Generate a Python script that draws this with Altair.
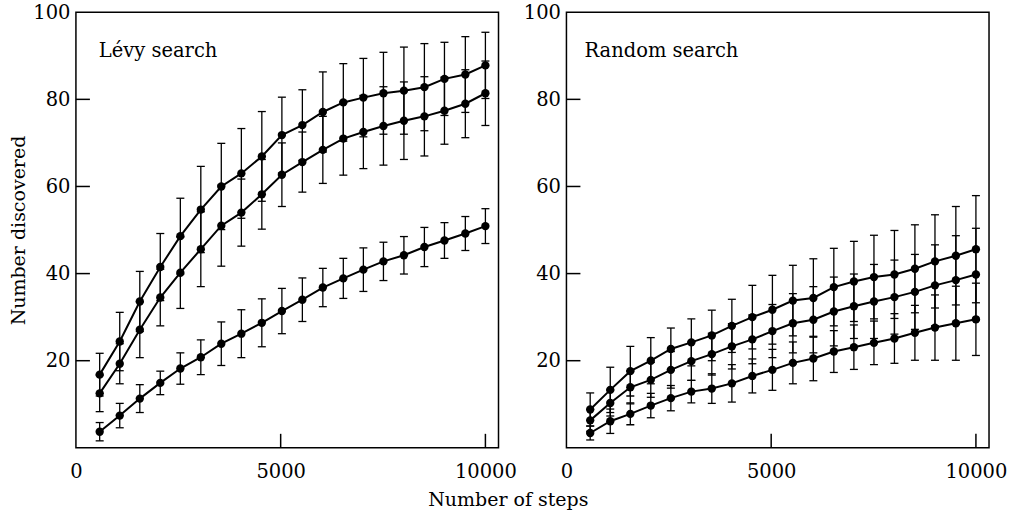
import altair as alt
import pandas as pd

# ---- data ----
steps = [580, 1070, 1560, 2060, 2550, 3050, 3550, 4040, 4540, 5030,
         5530, 6030, 6530, 7020, 7510, 8010, 8510, 9000, 9510, 10000]

levy_top = [16.8, 24.4, 33.6, 41.5, 48.6, 54.7, 60.0, 63.0, 66.9, 71.8,
            74.1, 77.1, 79.3, 80.4, 81.4, 82.0, 82.8, 84.7, 85.7, 87.8]
levy_top_err = [4.9, 6.7, 6.9, 7.7, 8.7, 9.9, 9.9, 10.3, 10.3, 8.7,
                8.1, 9.2, 8.9, 9.0, 9.4, 10.0, 10.0, 8.4, 8.7, 7.6]

levy_mid = [12.5, 19.3, 27.1, 34.5, 40.2, 45.6, 51.0, 54.0, 58.2, 62.7,
            65.6, 68.4, 71.0, 72.5, 73.9, 75.1, 76.1, 77.4, 79.0, 81.4]
levy_mid_err = [4.2, 4.6, 6.4, 6.5, 8.2, 8.6, 9.3, 7.7, 8.0, 7.3,
                6.9, 7.7, 8.4, 8.4, 9.0, 8.9, 9.1, 7.7, 7.8, 7.4]

levy_low = [3.7, 7.4, 11.3, 14.9, 18.2, 20.8, 23.9, 26.2, 28.7, 31.4,
            34.0, 36.8, 38.9, 40.9, 42.8, 44.2, 46.1, 47.6, 49.2, 50.9]
levy_low_err = [2.1, 2.8, 3.2, 2.7, 3.6, 4.0, 5.0, 5.5, 5.5, 5.2,
                5.0, 4.4, 4.6, 5.0, 4.4, 4.3, 4.5, 4.1, 3.9, 4.0]

rand_top = [8.8, 13.3, 17.6, 20.0, 22.7, 24.2, 25.8, 28.0, 30.0, 31.7,
            33.8, 34.4, 36.9, 38.2, 39.2, 39.8, 41.1, 42.8, 44.1, 45.6]
rand_top_err = [3.8, 5.2, 5.7, 5.3, 4.8, 5.4, 5.8, 6.1, 7.3, 7.9,
                8.1, 9.0, 8.9, 9.2, 9.6, 10.1, 10.1, 10.7, 11.3, 12.3]

rand_mid = [6.3, 10.3, 13.9, 15.6, 17.9, 19.9, 21.5, 23.3, 24.9, 26.8,
            28.6, 29.4, 31.3, 32.5, 33.6, 34.6, 35.8, 37.3, 38.5, 39.8]
rand_mid_err = [2.5, 3.0, 3.8, 4.0, 4.2, 4.4, 4.8, 5.2, 5.6, 6.1,
                6.8, 7.6, 7.9, 7.4, 8.5, 8.5, 8.6, 9.3, 10.2, 10.6]

rand_low = [3.4, 6.1, 7.8, 9.7, 11.4, 12.9, 13.6, 14.8, 16.5, 17.9,
            19.5, 20.5, 22.1, 23.1, 24.1, 25.1, 26.4, 27.6, 28.6, 29.5]
rand_low_err = [1.6, 2.8, 2.5, 2.8, 2.9, 2.6, 3.4, 4.3, 3.9, 4.7,
                4.8, 5.1, 4.8, 5.1, 5.0, 5.7, 6.3, 7.5, 8.5, 8.3]

panel_labels = ["Lévy search", "Random search"]
label_x = [560, 440]
label_y = [91, 91]

x_tick_values = [0, 5000, 10000]
y_tick_values = [20, 40, 60, 80, 100]
inner_x_ticks = [5000, 10000]
inner_y_ticks = [20, 40, 60, 80]

x_title = "Number of steps"
y_title = "Number discovered"

FONT = "DejaVu Serif"
W, H = 423, 436


def build_df(series_list):
    rows = []
    for name, means, errs in series_list:
        for s, m, e in zip(steps, means, errs):
            rows.append({"series": name, "steps": s, "mean": m,
                         "lo": m - e, "hi": m + e})
    return pd.DataFrame(rows)


levy_df = build_df([("a", levy_top, levy_top_err),
                    ("b", levy_mid, levy_mid_err),
                    ("c", levy_low, levy_low_err)])
rand_df = build_df([("a", rand_top, rand_top_err),
                    ("b", rand_mid, rand_mid_err),
                    ("c", rand_low, rand_low_err)])

xscale = alt.Scale(domain=[0, 10320], nice=False, zero=False)
yscale = alt.Scale(domain=[0, 100], nice=False)


def panel(df, idx, ytitle):
    base = alt.Chart(df)
    xaxis = alt.Axis(values=x_tick_values, format="d", ticks=False, tickSize=0,
                     domain=False, grid=False, labelPadding=15, title=None,
                     labelFlush=False)
    yaxis = alt.Axis(values=y_tick_values, ticks=False, tickSize=0, domain=False,
                     grid=False, labelPadding=6, title=ytitle, titlePadding=4,
                     labelFlush=False)

    def X(f):
        return alt.X(f, scale=xscale, axis=xaxis)

    def Y(f):
        return alt.Y(f, scale=yscale, axis=yaxis)

    lines = base.mark_line(color="black", strokeWidth=2).encode(
        x=X("steps:Q"), y=Y("mean:Q"), detail="series:N")
    bars = base.mark_rule(color="black", strokeWidth=1.3).encode(
        x=X("steps:Q"), y=Y("lo:Q"), y2="hi:Q")
    cap_lo = base.mark_tick(orient="horizontal", size=8, thickness=1.3,
                            color="black", opacity=1).encode(
        x=X("steps:Q"), y=Y("lo:Q"))
    cap_hi = base.mark_tick(orient="horizontal", size=8, thickness=1.3,
                            color="black", opacity=1).encode(
        x=X("steps:Q"), y=Y("hi:Q"))
    pts = base.mark_circle(size=70, color="black", opacity=1).encode(
        x=X("steps:Q"), y=Y("mean:Q"))

    ytick_df = pd.DataFrame({"v": inner_y_ticks})
    yticks = alt.Chart(ytick_df).mark_rule(color="black", strokeWidth=1.5).encode(
        y=Y("v:Q"), x=alt.value(0), x2=alt.value(14))
    xtick_df = pd.DataFrame({"v": inner_x_ticks})
    xticks = alt.Chart(xtick_df).mark_rule(color="black", strokeWidth=1.5).encode(
        x=X("v:Q"), y=alt.value(H), y2=alt.value(H - 14))

    lab_df = pd.DataFrame({"t": [panel_labels[idx]], "x": [label_x[idx]],
                           "y": [label_y[idx]]})
    label = alt.Chart(lab_df).mark_text(
        align="left", baseline="middle", font=FONT, fontSize=19.5,
        color="black").encode(x=X("x:Q"), y=Y("y:Q"), text="t:N")

    return alt.layer(lines, bars, cap_lo, cap_hi, pts, yticks, xticks, label).properties(
        width=W, height=H)


left = panel(levy_df, 0, y_title)
right = panel(rand_df, 1, None)

chart = alt.hconcat(left, right, spacing=68, bounds="flush").properties(
    title=alt.TitleParams(x_title, orient="bottom", anchor="middle", font=FONT,
                          fontSize=19, fontWeight="normal", color="black", offset=9),
    padding={"left": 9, "top": 1, "right": 5, "bottom": 5},
    background="white",
).configure_view(
    stroke="black", strokeWidth=1.5
).configure_axis(
    labelFont=FONT, labelFontSize=19.5, labelColor="black",
    titleFont=FONT, titleFontSize=19, titleColor="black", titleFontWeight="normal"
)

chart.save("out.html", embed_options={"renderer": "svg", "actions": False})
